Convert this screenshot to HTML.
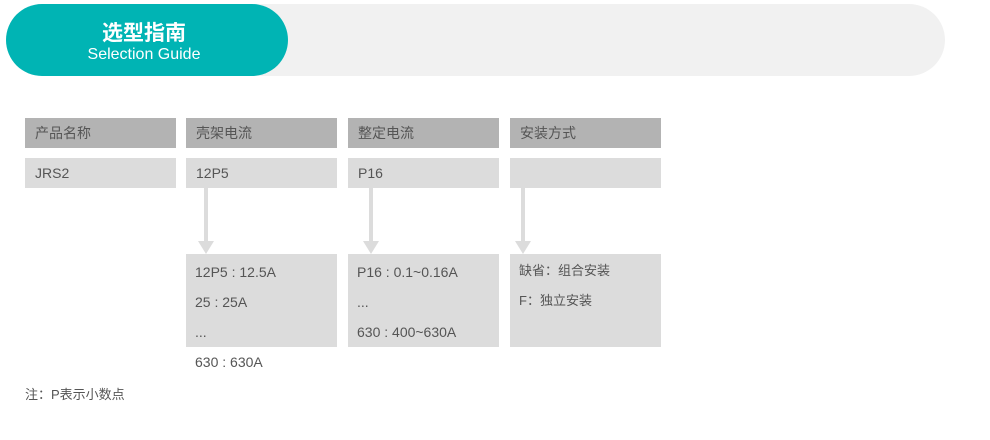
<!DOCTYPE html>
<html><head><meta charset="utf-8"><style>
body{margin:0;width:990px;height:440px;background:#fff;position:relative;overflow:hidden;font-family:"Liberation Sans","Noto Sans CJK SC",sans-serif;color:#555}
.a{position:absolute}
.h{background:#b3b3b3;height:30px;top:118px;width:151px;font-size:14px;line-height:30px;text-indent:10px;color:#555}
.v{background:#dcdcdc;height:30px;top:158px;width:151px;font-size:14px;line-height:30px;text-indent:10px}
.d{background:#dcdcdc;top:254px;height:93px;width:151px}
.t{font-size:14px;line-height:30px;left:10px;white-space:nowrap}
.ln{background:#dcdcdc;width:4px;top:188px;height:54px}
.ar{width:0;height:0;border-left:8px solid transparent;border-right:8px solid transparent;border-top:13px solid #dcdcdc;top:241px}
</style></head><body>
<div class="a" style="left:6px;top:4px;width:939px;height:72px;background:#f1f1f1;border-radius:36px"></div>
<div class="a" style="left:6px;top:4px;width:282px;height:72px;background:#00b4b4;border-radius:36px;color:#fff;text-align:center">
<div style="font-size:21px;font-weight:bold;margin-top:18px;line-height:24px;margin-left:-6px">选型指南</div>
<div style="font-size:16px;line-height:18px;margin-left:-6px">Selection Guide</div></div>
<div class="a h" style="left:25px">产品名称</div>
<div class="a h" style="left:186px">壳架电流</div>
<div class="a h" style="left:348px">整定电流</div>
<div class="a h" style="left:510px">安装方式</div>
<div class="a v" style="left:25px">JRS2</div>
<div class="a v" style="left:186px">12P5</div>
<div class="a v" style="left:348px">P16</div>
<div class="a v" style="left:510px"></div>
<div class="a ln" style="left:204px"></div><div class="a ar" style="left:198px"></div>
<div class="a ln" style="left:369px"></div><div class="a ar" style="left:363px"></div>
<div class="a ln" style="left:521px"></div><div class="a ar" style="left:515px"></div>
<div class="a d" style="left:186px"></div>
<div class="a d" style="left:348px"></div>
<div class="a d" style="left:510px"></div>
<div class="a t" style="left:195px;top:257px">12P5 : 12.5A</div>
<div class="a t" style="left:195px;top:287px">25 : 25A</div>
<div class="a t" style="left:195px;top:317px">...</div>
<div class="a t" style="left:195px;top:347px">630 : 630A</div>
<div class="a t" style="left:357px;top:257px">P16 : 0.1~0.16A</div>
<div class="a t" style="left:357px;top:287px">...</div>
<div class="a t" style="left:357px;top:317px">630 : 400~630A</div>
<div class="a t" style="left:519px;top:256px;font-size:13px">缺省：组合安装</div>
<div class="a t" style="left:519px;top:286px;font-size:13px">F：独立安装</div>
<div class="a t" style="left:25px;top:380px;font-size:13px">注：P表示小数点</div>
</body></html>
